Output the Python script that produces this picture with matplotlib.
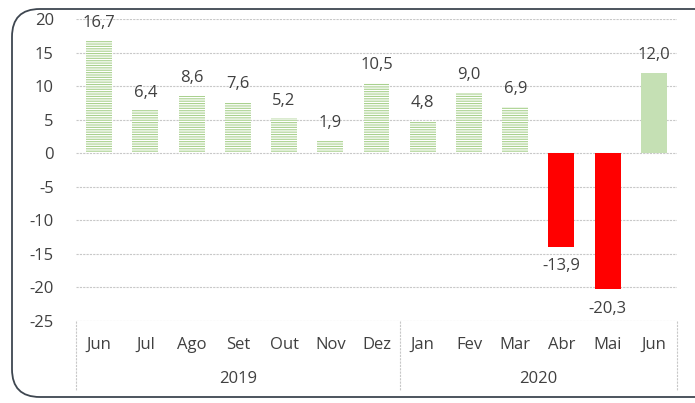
import matplotlib.pyplot as plt
from matplotlib.patches import FancyBboxPatch
from matplotlib.lines import Line2D

months = ['Jun', 'Jul', 'Ago', 'Set', 'Out', 'Nov', 'Dez',
          'Jan', 'Fev', 'Mar', 'Abr', 'Mai', 'Jun']
values = [16.7, 6.4, 8.6, 7.6, 5.2, 1.9, 10.5, 4.8, 9.0, 6.9, -13.9, -20.3, 12.0]
years = ['2019', '2020']
year_counts = [7, 6]
yticks = [20, 15, 10, 5, 0, -5, -10, -15, -20, -25]

plt.rcParams['font.family'] = ['Open Sans', 'DejaVu Sans']
plt.rcParams['hatch.linewidth'] = 0.8
txt = '#404040'
grid = '#c8c8c8'
fs = 12

fig = plt.figure(figsize=(6.95, 4.03), dpi=100)
ax = fig.add_axes([76 / 695, 1 - 321 / 403, 601 / 695, 302 / 403])

# rounded outer frame
frame = FancyBboxPatch((12 / 695, 6 / 403), 720 / 695, 388 / 403,
                       boxstyle='round,pad=0,rounding_size=0.04',
                       transform=fig.transFigure, fill=False,
                       edgecolor='#3e4650', linewidth=1.3, zorder=-1,
                       mutation_aspect=695 / 403)
fig.patches.append(frame)

for i, v in enumerate(values):
    if v < 0:
        ax.bar(i, v, width=0.56, color='#ff0000', linewidth=0, zorder=3)
    elif i == len(values) - 1:
        ax.bar(i, v, width=0.56, color='#c5e0b4', linewidth=0, zorder=3)
    else:
        ax.bar(i, v, width=0.56, facecolor='white', edgecolor='#a9d18e',
               hatch='-------', linewidth=0, zorder=3)
    lbl = f'{v:.1f}'.replace('.', ',')
    if v >= 0:
        ax.annotate(lbl, (i, v), xytext=(0, 7), textcoords='offset points',
                    ha='center', va='bottom', fontsize=fs, color=txt)
    else:
        ax.annotate(lbl, (i, v), xytext=(0, -8), textcoords='offset points',
                    ha='center', va='top', fontsize=fs, color=txt)

ax.set_xlim(-0.5, len(values) - 0.5)
ax.set_ylim(-25, 20)
ax.set_yticks(yticks)
ax.set_yticklabels([str(t) for t in yticks])
ax.tick_params(axis='y', length=0, pad=16, labelsize=fs, labelcolor=txt)
ax.set_xticks([])
for t in yticks:
    ax.axhline(t, color=grid, linewidth=0.8, linestyle=(0, (2, 1)), zorder=1)
for s in ax.spines.values():
    s.set_visible(False)

# category axis with months and years
trans = ax.get_xaxis_transform()
for i, m in enumerate(months):
    ax.text(i, -0.08, m, transform=trans, ha='center', va='center',
            fontsize=fs, color=txt)
start = 0
bounds = [-0.5]
for yr, n in zip(years, year_counts):
    ax.text(start + (n - 1) / 2, -0.192, yr, transform=trans, ha='center',
            va='center', fontsize=fs, color=txt)
    start += n
    bounds.append(start - 0.5)
for b in bounds:
    ax.add_line(Line2D([b, b], [0, -0.228], transform=trans, color=grid,
                       linewidth=0.8, linestyle=(0, (2, 1)), clip_on=False))

fig.savefig('out.png', dpi=100)
